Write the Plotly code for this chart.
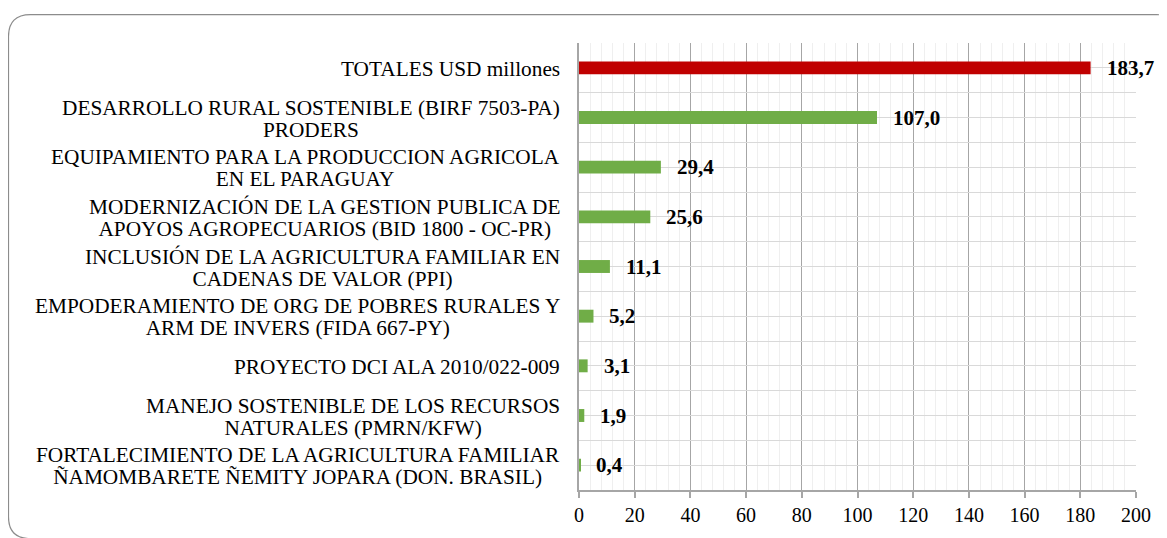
import plotly.graph_objects as go

# ---- data ----
categories = [
    "TOTALES USD millones",
    "DESARROLLO RURAL SOSTENIBLE (BIRF 7503-PA)<br>PRODERS",
    "EQUIPAMIENTO PARA LA PRODUCCION AGRICOLA<br>EN EL PARAGUAY",
    "MODERNIZACIÓN DE LA GESTION PUBLICA DE<br>APOYOS AGROPECUARIOS (BID 1800 - OC-PR)",
    "INCLUSIÓN DE LA AGRICULTURA FAMILIAR EN<br>CADENAS DE VALOR (PPI)",
    "EMPODERAMIENTO DE ORG DE POBRES RURALES Y<br>ARM DE INVERS (FIDA 667-PY)",
    "PROYECTO DCI ALA 2010/022-009",
    "MANEJO SOSTENIBLE DE LOS RECURSOS<br>NATURALES (PMRN/KFW)",
    "FORTALECIMIENTO DE LA AGRICULTURA FAMILIAR<br>ÑAMOMBARETE ÑEMITY JOPARA (DON. BRASIL)",
]
values = [183.7, 107.0, 29.4, 25.6, 11.1, 5.2, 3.1, 1.9, 0.4]
x_ticks = [0, 20, 40, 60, 80, 100, 120, 140, 160, 180, 200]

# ---- style ----
# page places the figure 8px in from the top-left (body margin)
OFF = 8
W, H = 1167 - OFF, 538 - OFF
ML, MR, MT, MB = 579 - OFF, 31, 43 - OFF, 45
FONT = "Liberation Serif, Times New Roman, serif"
RED, GREEN = "#c00000", "#70ad47"
colors = [RED] + [GREEN] * (len(values) - 1)
positions = list(range(len(categories)))
LABEL_PX = 21.3      # glyph size of category labels
LINE_BASE = 17       # base size controlling line spacing (1.3 * 17 ~ 22px)

fig = go.Figure()
fig.add_trace(go.Bar(
    x=values, y=positions, orientation="h",
    marker=dict(color=colors, line=dict(width=0)),
    width=0.26, hoverinfo="skip",
))

annotations = []
for p, c in zip(positions, categories):
    txt = "<br>".join(f'<span style="font-size:{LABEL_PX}px">{ln}</span>' for ln in c.split("<br>"))
    annotations.append(dict(
        x=0, xref="paper", y=p, yref="y", text=txt, showarrow=False,
        xanchor="right", yanchor="middle", align="center", xshift=-17, yshift=-1,
        font=dict(family=FONT, size=LINE_BASE, color="#000000"),
    ))
for p, v in zip(positions, values):
    annotations.append(dict(
        x=v, xref="x", y=p, yref="y", text="<b>" + f"{v:.1f}".replace(".", ",") + "</b>",
        showarrow=False, xanchor="left", yanchor="middle", xshift=14,
        font=dict(family=FONT, size=21, color="#000000"),
    ))

# rounded border of the chart container (pixel -> paper)
pw, ph = W - ML - MR, H - MT - MB
def px(xp):
    return (xp - ML) / pw
def py(yp):
    return (H - MB - yp) / ph
L, T, R, B, r = 8.5 - OFF, 14.5 - OFF, 1179 - OFF, 542 - OFF, 22
path = (
    f"M {px(L)},{py(B - r)} L {px(L)},{py(T + r)} "
    f"Q {px(L)},{py(T)} {px(L + r)},{py(T)} "
    f"L {px(R - r)},{py(T)} Q {px(R)},{py(T)} {px(R)},{py(T + r)} "
    f"L {px(R)},{py(B - r)} Q {px(R)},{py(B)} {px(R - r)},{py(B)} "
    f"L {px(L + r)},{py(B)} Q {px(L)},{py(B)} {px(L)},{py(B - r)} Z"
)

fig.update_layout(
    width=W, height=H,
    margin=dict(l=ML, r=MR, t=MT, b=MB, pad=0),
    paper_bgcolor="white", plot_bgcolor="white",
    showlegend=False,
    font=dict(family=FONT, size=20, color="#000000"),
    annotations=annotations,
    shapes=[dict(type="path", xref="paper", yref="paper", path=path,
                 line=dict(color="#8c8c8c", width=1.2), fillcolor="rgba(0,0,0,0)",
                 layer="above")],
    xaxis=dict(
        range=[0, 200], tickmode="array", tickvals=x_ticks,
        ticktext=[str(t) for t in x_ticks],
        showgrid=True, gridcolor="#a6a6a6", gridwidth=1,
        minor=dict(dtick=4, tick0=0, showgrid=True, gridcolor="#efefef", gridwidth=1),
        showline=True, linecolor="#a6a6a6", linewidth=1.5,
        ticks="outside", ticklen=6, tickcolor="#a6a6a6", tickwidth=1.5,
        zeroline=False, fixedrange=True,
        tickfont=dict(family=FONT, size=20, color="#000000"),
    ),
    yaxis=dict(
        range=[8.5, -0.5], tickmode="linear", tick0=0.5, dtick=0.5,
        showticklabels=False, ticks="",
        showgrid=True, gridcolor="#d9d9d9", gridwidth=1,
        showline=True, linecolor="#a6a6a6", linewidth=1.5,
        zeroline=False, fixedrange=True,
    ),
)

fig.write_html("out.html")
